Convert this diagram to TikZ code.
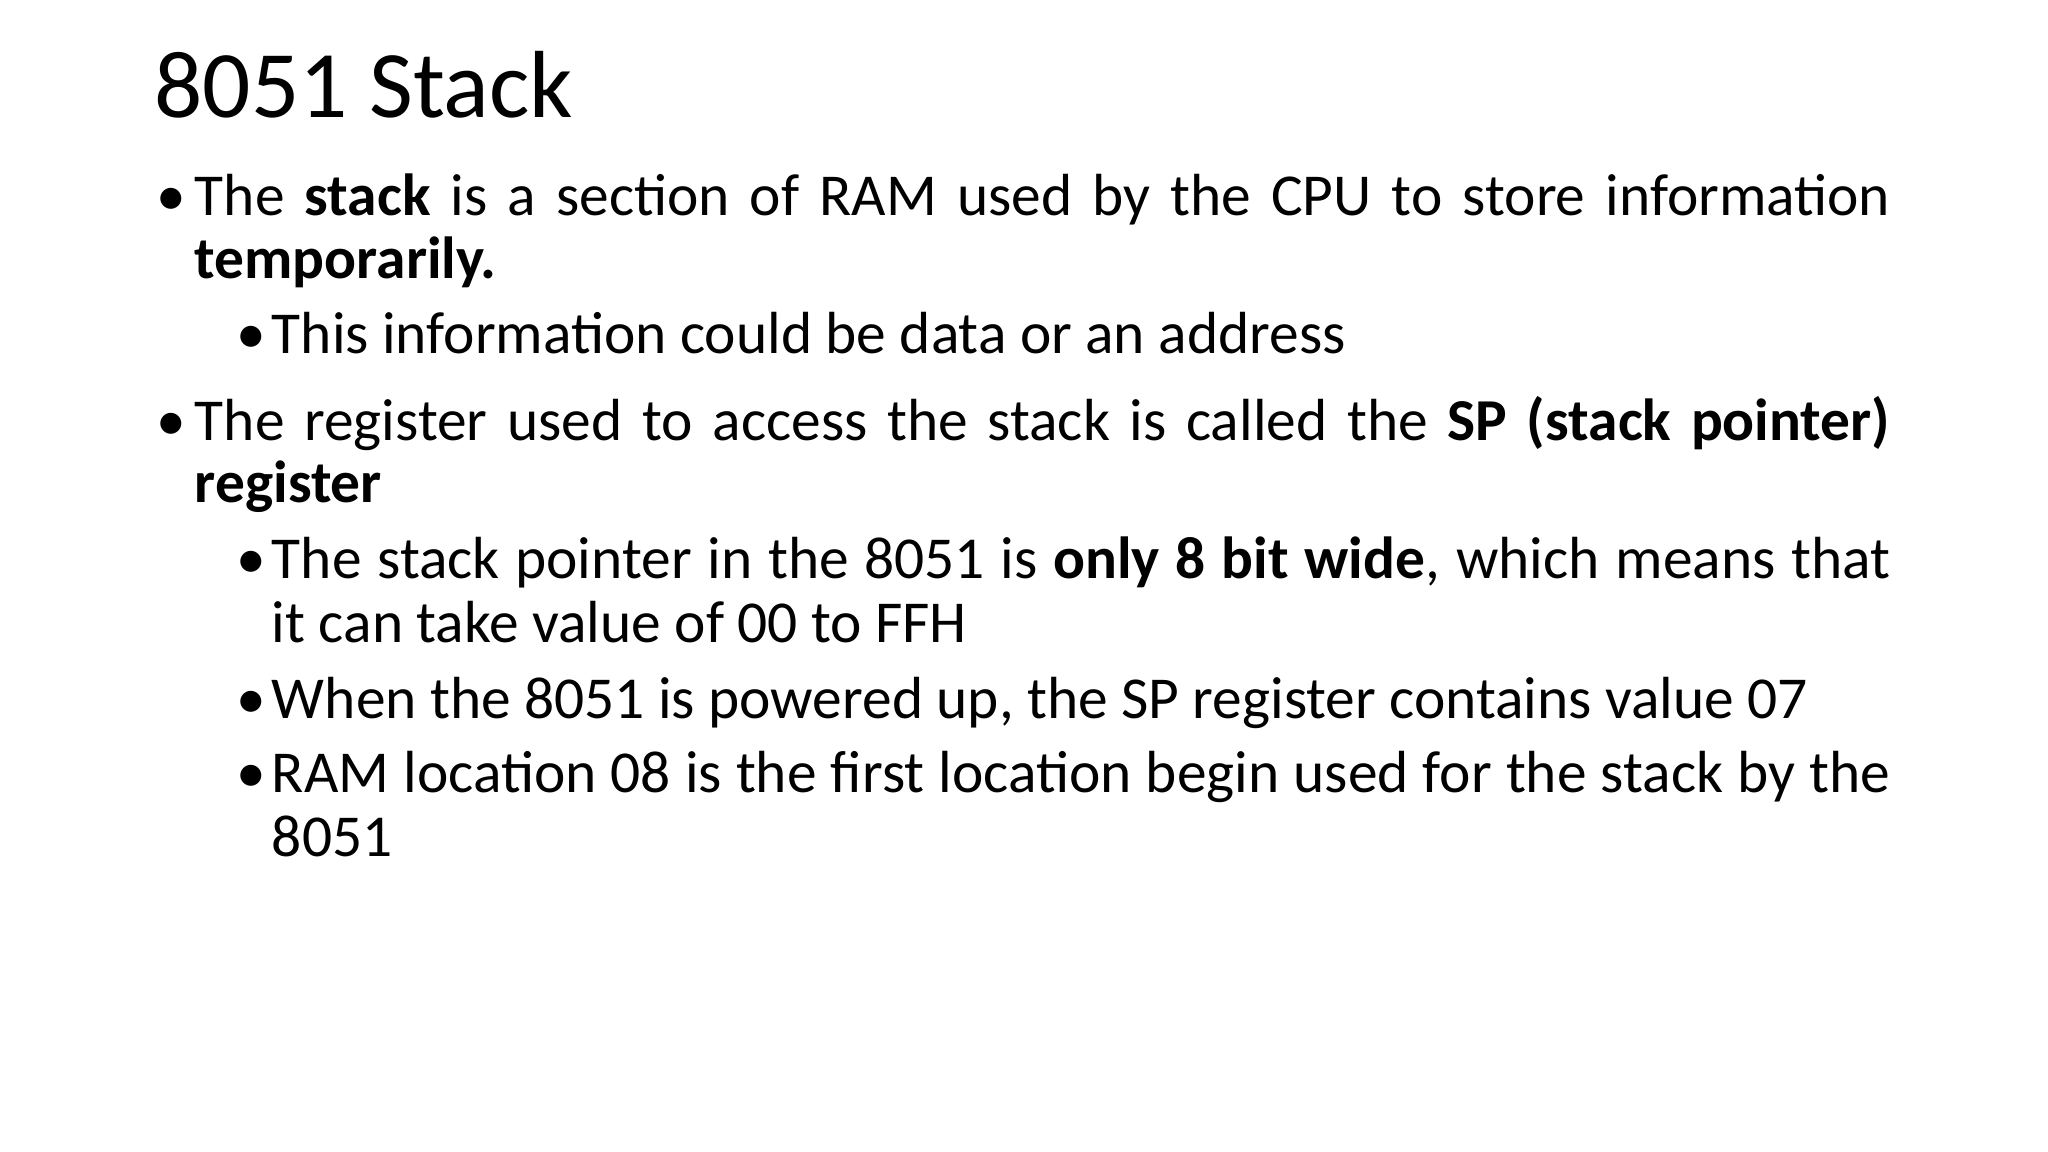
\documentclass[tikz,border=0pt]{standalone}
\usepackage{fontspec}
\setmainfont{Carlito}
\begin{document}
\begin{tikzpicture}[x=1pt,y=-1pt,
  tx/.style={anchor=base west,inner sep=0pt,font=\fontsize{45.5}{50}\selectfont},
  bl/.style={anchor=base west,inner sep=0pt,font=\fontsize{45.5}{50}\selectfont}]
\useasboundingbox (0,0) rectangle (1568,882);
\node[anchor=base west,inner sep=0pt,font=\fontsize{73}{80}\selectfont] (title) at (118,90) {8051 Stack};
\node[bl] (b1) at (120,165) {•};
\node[tx] (l1) at (149,165) {\makebox[1298pt][s]{The \textbf{stack} is a section of RAM used by the CPU to store information}};
\node[tx] (l2) at (149,213) {\textbf{temporarily.}};
\node[bl] (b2) at (181,271) {•};
\node[tx] (l3) at (208,271) {This information could be data or an address};
\node[bl] (b3) at (120,337) {•};
\node[tx] (l4) at (149,337) {\makebox[1298pt][s]{The register used to access the stack is called the \textbf{SP (stack pointer)}}};
\node[tx] (l5) at (149,385) {\textbf{register}};
\node[bl] (b4) at (181,443) {•};
\node[tx] (l6) at (208,443) {\makebox[1239pt][s]{The stack pointer in the 8051 is \textbf{only 8 bit wide}, which means that}};
\node[tx] (l7) at (208,492) {it can take value of 00 to FFH};
\node[bl] (b5) at (181,550) {•};
\node[tx] (l8) at (208,550) {When the 8051 is powered up, the SP register contains value 07};
\node[bl] (b6) at (181,607) {•};
\node[tx] (l9) at (208,607) {\makebox[1239pt][s]{RAM location 08 is the first location begin used for the stack by the}};
\node[tx] (l10) at (208,656) {8051};
\end{tikzpicture}
\end{document}
